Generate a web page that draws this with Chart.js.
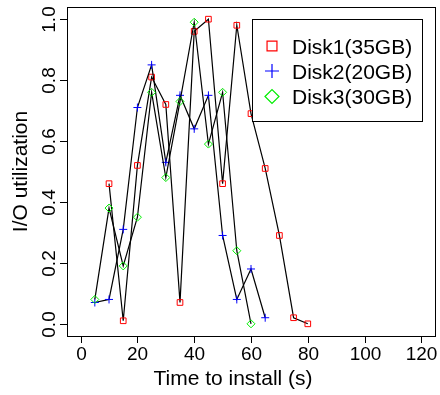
<!DOCTYPE html>
<html><head><meta charset="utf-8">
<script src="https://cdn.jsdelivr.net/npm/chart.js@4.4.1/dist/chart.umd.min.js"></script>
<style>html,body{margin:0;padding:0;background:#fff}#wrap{width:440px;height:395px}</style>
</head><body><div id="wrap"><canvas id="c" width="440" height="395"></canvas></div>
<script>
const disk1X = [10,15,20,25,30,35,40,45,50,55,60,65,70,75,80];
const disk1Y = [0.46,0.01,0.52,0.81,0.72,0.07,0.96,1.00,0.46,0.98,0.69,0.51,0.29,0.02,0.00];
const disk2X = [5,10,15,20,25,30,35,40,45,50,55,60,65];
const disk2Y = [0.07,0.08,0.31,0.71,0.85,0.53,0.75,0.64,0.75,0.29,0.08,0.18,0.02];
const disk3X = [5,10,15,20,25,30,35,40,45,50,55,60];
const disk3Y = [0.08,0.38,0.19,0.35,0.76,0.48,0.73,0.99,0.59,0.76,0.24,0.00];
const seriesNames = ['Disk1(35GB)','Disk2(20GB)','Disk3(30GB)'];
const xTicks = [0,20,40,60,80,100,120];
const yTicks = [0,0.2,0.4,0.6,0.8,1.0];
const yTickLabels = ['0.0','0.2','0.4','0.6','0.8','1.0'];
const xTitle = 'Time to install (s)';
const yTitle = 'I/O utilization';

const colors = ['#ff0000','#0000ff','#00ee00'];
const styles = ['rect','cross','rectRot'];
const FONT = '"Liberation Sans", Arial, Helvetica, sans-serif';

function pts(xs, ys){ return xs.map((x,i)=>({x:x, y:ys[i]})); }
const series = [pts(disk1X,disk1Y), pts(disk2X,disk2Y), pts(disk3X,disk3Y)];

const datasets = series.map((d,i)=>({
  label: seriesNames[i],
  data: d,
  showLine: true,
  borderColor: '#000',
  borderWidth: 1.2,
  pointStyle: styles[i],
  pointRadius: 4,
  pointBorderColor: colors[i],
  pointBackgroundColor: 'rgba(0,0,0,0)',
  pointBorderWidth: 1,
  order: 3 - i
}));

const framePlugin = {
  id: 'frame',
  afterDraw(chart){
    const ctx = chart.ctx, a = chart.chartArea;
    const xs = chart.scales.x, ys = chart.scales.y;
    ctx.save();
    ctx.strokeStyle = '#000';
    ctx.lineWidth = 1;
    ctx.strokeRect(Math.round(a.left)+0.5, Math.round(a.top)+0.5, Math.round(a.right-a.left), Math.round(a.bottom-a.top));
    ctx.fillStyle = '#000';
    // x ticks
    ctx.font = '19px ' + FONT;
    ctx.textAlign = 'center';
    ctx.textBaseline = 'alphabetic';
    xTicks.forEach(v=>{
      const px = Math.round(xs.getPixelForValue(v))+0.5;
      ctx.beginPath(); ctx.moveTo(px, a.bottom); ctx.lineTo(px, a.bottom+7); ctx.stroke();
      ctx.fillText(String(v), px, 360);
    });
    // y ticks
    yTicks.forEach((v,i)=>{
      const py = Math.round(ys.getPixelForValue(v))+0.5;
      ctx.beginPath(); ctx.moveTo(a.left, py); ctx.lineTo(a.left-7, py); ctx.stroke();
      ctx.save(); ctx.translate(55, py); ctx.rotate(-Math.PI/2);
      ctx.fillText(yTickLabels[i], 0, 0); ctx.restore();
    });
    // titles
    ctx.font = '21px ' + FONT;
    ctx.fillText(xTitle, 233, 385);
    ctx.save(); ctx.translate(27, (a.top+a.bottom)/2); ctx.rotate(-Math.PI/2);
    ctx.fillText(yTitle, 0, 0); ctx.restore();
    // legend
    ctx.fillStyle = '#fff';
    ctx.fillRect(252, 19, 171, 102);
    ctx.strokeRect(252.5, 19.5, 170, 102);
    const rows = [46, 71, 96.5];
    ctx.textAlign = 'left';
    rows.forEach((ry,i)=>{
      ctx.strokeStyle = colors[i];
      ctx.fillStyle = 'rgba(0,0,0,0)';
      ctx.lineWidth = 1.2;
      Chart.helpers.drawPoint(ctx, {pointStyle: styles[i], radius: 7, rotation: 0, borderWidth: 1.2}, 272, ry);
      ctx.fillStyle = '#000';
      ctx.fillText(seriesNames[i], 292, ry + 7.5);
    });
    ctx.restore();
  }
};

new Chart(document.getElementById('c'), {
  type: 'scatter',
  data: { datasets },
  options: {
    responsive: false,
    animation: false,
    layout: { padding: { left: 67, top: 7, right: 4, bottom: 59 } },
    scales: {
      x: { type: 'linear', min: -4.8, max: 124.8, display: false },
      y: { type: 'linear', min: -0.04, max: 1.04, display: false }
    },
    plugins: { legend: { display: false }, tooltip: { enabled: false } }
  },
  plugins: [framePlugin]
});
</script>
</body></html>
